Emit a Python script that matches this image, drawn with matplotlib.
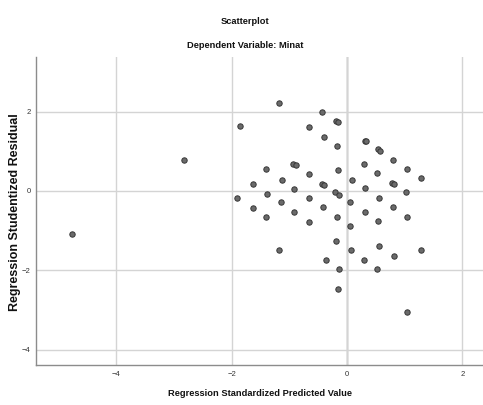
import matplotlib
matplotlib.use("Agg")
import matplotlib.pyplot as plt

# Regression Standardized Predicted Value (x) and Studentized Residual (y)
pred_values = [
    -4.76, -2.83, -1.85, -1.18, -0.43, -0.19, -0.16, -0.66, -0.40, -0.17,
    -1.40, -0.93, -0.89, -0.66, -0.16, -1.63, -1.13, -0.91, -0.43, -0.39,
    -0.20, -0.14, -1.90, -1.39, -1.15, -0.66, -1.63, -1.41, -0.91, -0.42,
    -0.17, -0.66, -0.19, -1.17, 0.31, 0.33, 0.54, 0.57, 0.80, 0.30,
    1.04, 0.53, 0.09, 1.28, 0.79, 0.81, 0.31, 1.03, 0.06, 0.56,
    0.32, 0.80, 1.04, 0.06, 0.54, 0.07, 0.56, 0.81, 1.28, 0.29,
    -0.37, -0.14, 0.53, -0.16, 1.04,
]
resid_values = [
    -1.08, 0.78, 1.63, 2.22, 1.99, 1.77, 1.73, 1.61, 1.37, 1.13,
    0.55, 0.69, 0.65, 0.42, 0.53, 0.17, 0.28, 0.06, 0.18, 0.15,
    -0.03, -0.10, -0.17, -0.07, -0.29, -0.18, -0.44, -0.66, -0.54, -0.41,
    -0.66, -0.79, -1.25, -1.50, 1.27, 1.25, 1.06, 1.02, 0.79, 0.68,
    0.56, 0.45, 0.28, 0.32, 0.20, 0.18, 0.07, -0.03, -0.28, -0.18,
    -0.54, -0.41, -0.65, -0.89, -0.76, -1.50, -1.38, -1.63, -1.49, -1.73,
    -1.75, -1.96, -1.97, -2.48, -3.06,
]
x_ticks = [-4, -2, 0, 2]
y_ticks = [-4, -2, 0, 2]

font = "Liberation Sans"

fig = plt.figure(figsize=(4.83, 4.05), dpi=100, facecolor="white")
ax = fig.add_axes([36 / 483, 1 - 365 / 405, 1 - 36 / 483, (365 - 57) / 405])

ax.scatter(pred_values, resid_values, s=15, c="#6a6a6a", edgecolors="#363636",
           linewidths=0.7, zorder=3)

ax.set_xlim(-5.39, 2.36)
ax.set_ylim(-4.39, 3.38)
ax.set_xticks(x_ticks)
ax.set_yticks(y_ticks)
ax.grid(True, color="#d4d4d4", linewidth=1.0, zorder=0)
ax.axvline(0, color="#e2e2e2", linewidth=1.8, zorder=1)

for side in ("top", "right"):
    ax.spines[side].set_visible(False)
for side in ("left", "bottom"):
    ax.spines[side].set_color("#8c8c8c")
    ax.spines[side].set_linewidth(1.0)

ax.tick_params(length=0, labelsize=5.5, labelcolor="#333333", pad=4)
for lbl in ax.get_xticklabels() + ax.get_yticklabels():
    lbl.set_family(font)

fig.text(245 / 483, 1 - 22 / 405, "Scatterplot", ha="center", va="center",
         fontsize=6.7, fontweight="bold", family=font, color="#111111")
fig.text(245 / 483, 1 - 46 / 405, "Dependent Variable: Minat", ha="center", va="center",
         fontsize=6.7, fontweight="bold", family=font, color="#111111")
fig.text(260 / 483, 1 - 393 / 405, "Regression Standardized Predicted Value",
         ha="center", va="center", fontsize=6.7, fontweight="bold", family=font,
         color="#111111")
fig.text(15 / 483, 1 - 212 / 405, "Regression Studentized Residual", rotation=90,
         ha="center", va="center", fontsize=9.0, fontweight="bold",
         family=font, color="#111111")

fig.savefig("out.png", dpi=100, facecolor="white")
